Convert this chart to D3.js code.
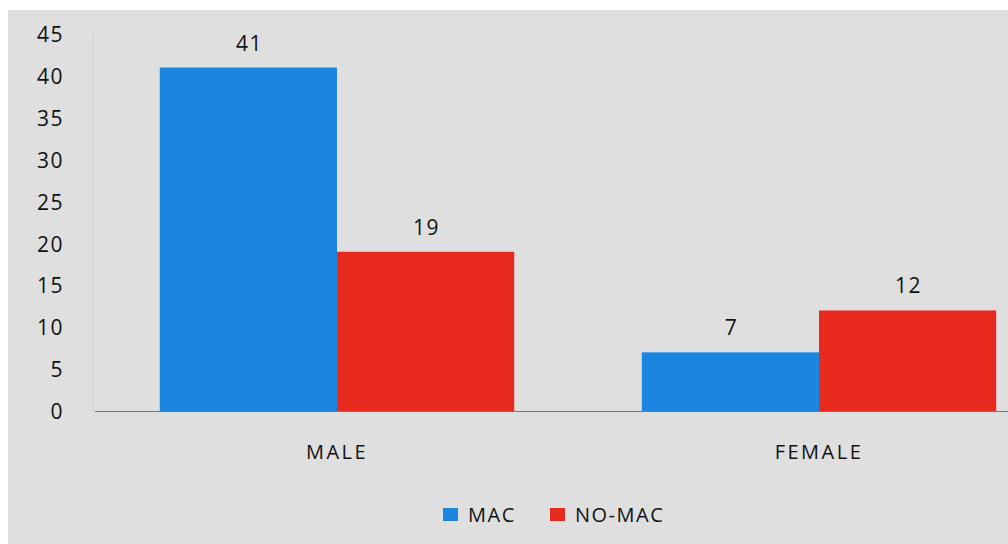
<!DOCTYPE html>
<html><head><meta charset="utf-8">
<script src="https://cdn.jsdelivr.net/npm/d3@7"></script>
<style>
html,body{margin:0;padding:0;background:#fff;}
svg{display:block;}
text{font-family:"Open Sans",Lato,sans-serif;fill:#111;}
</style></head>
<body><svg id="c" width="1008" height="544"></svg>
<script>
const categories = ["MALE", "FEMALE"];
const seriesNames = ["MAC", "NO-MAC"];
const macValues = [41, 7];
const noMacValues = [19, 12];
const yTicks = [0, 5, 10, 15, 20, 25, 30, 35, 40, 45];
const colors = ["#1a86e0", "#e8291d"];

const svg = d3.select("#c");
svg.append("rect").attr("x", 8).attr("y", 10).attr("width", 1000).attr("height", 534).attr("fill", "#dfdfe0");

const y = d3.scaleLinear().domain([0, 45]).range([411, 34]);
const x0 = d3.scaleBand().domain(categories).range([96, 1060]).paddingInner(0).paddingOuter(0);
const x1 = d3.scaleBand().domain(seriesNames).range([0, x0.bandwidth()]).paddingOuter(0.36).paddingInner(0.0);

// y axis
const yAxis = d3.axisLeft(y).tickValues(yTicks).tickSize(0).tickPadding(0);
const gy = svg.append("g").attr("transform", "translate(64,0)").call(yAxis);
gy.select(".domain").remove();
gy.selectAll("text").style("font-size", "21px").style("letter-spacing", "1.5px").attr("dy", "0.36em");
svg.append("line").attr("x1", 93).attr("x2", 93).attr("y1", 34).attr("y2", 411).attr("stroke", "#cfcfcf").attr("stroke-width", 1);

const data = categories.map((c, i) => ({cat: c, vals: [macValues[i], noMacValues[i]]}));
const groups = svg.append("g").selectAll("g").data(data).join("g")
  .attr("transform", d => `translate(${x0(d.cat)},0)`);
groups.selectAll("rect").data(d => d.vals.map((v, j) => ({s: seriesNames[j], v, j}))).join("rect")
  .attr("x", d => x1(d.s)).attr("width", x1.bandwidth())
  .attr("y", d => y(d.v)).attr("height", d => y(0) - y(d.v))
  .attr("fill", d => colors[d.j]);
groups.selectAll("text").data(d => d.vals.map((v, j) => ({s: seriesNames[j], v, j}))).join("text")
  .attr("x", d => x1(d.s) + x1.bandwidth() / 2 + 1).attr("y", d => y(d.v) - 17)
  .attr("text-anchor", "middle").style("font-size", "21px").style("letter-spacing", "1.5px").text(d => d.v);

// x axis
svg.append("line").attr("x1", 95).attr("x2", 1008).attr("y1", 411.5).attr("y2", 411.5).attr("stroke", "#777").attr("stroke-width", 1);
const xAxis = d3.axisBottom(x0).tickSize(0).tickPadding(0);
const gx = svg.append("g").attr("transform", "translate(0,452)").call(xAxis);
gx.select(".domain").remove();
gx.selectAll("text").style("font-size", "20px").style("letter-spacing", "2.5px").attr("dy", "0.36em");

// legend
const legendX = [443, 550];
const lg = svg.append("g").selectAll("g").data(seriesNames).join("g")
  .attr("transform", (d, i) => `translate(${legendX[i]},515)`);
lg.append("rect").attr("x", 0).attr("y", -7).attr("width", 15).attr("height", 13).attr("fill", (d, i) => colors[i]);
lg.append("text").attr("x", 25).attr("y", 0).attr("dy", "0.36em").style("font-size", "20px").style("letter-spacing", "1.5px").text(d => d);
</script></body></html>
